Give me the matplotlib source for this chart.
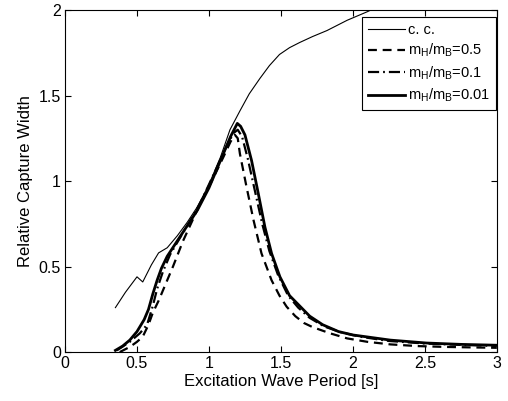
import matplotlib
matplotlib.use("Agg")
import matplotlib.pyplot as plt

plt.rcParams['font.family'] = ['Liberation Sans', 'DejaVu Sans']
plt.rcParams['mathtext.default'] = 'regular'

# c. c. curve
T_cc = [0.35, 0.42, 0.50, 0.54, 0.60, 0.65, 0.71, 0.78, 0.85, 0.92, 1.00, 1.08, 1.146, 1.215, 1.28, 1.354,
        1.42, 1.49, 1.56, 1.63, 1.72, 1.82, 1.96, 2.10, 2.15]
W_cc = [0.26, 0.35, 0.44, 0.41, 0.51, 0.58, 0.61, 0.68, 0.76, 0.85, 0.98, 1.14, 1.30, 1.41, 1.51, 1.60,
        1.675, 1.74, 1.78, 1.81, 1.845, 1.88, 1.94, 1.99, 2.01]

# m_H/m_B = 0.5
T_05 = [0.38, 0.45, 0.50, 0.54, 0.58, 0.61, 0.65, 0.68, 0.75, 0.82, 0.88, 0.94, 1.02, 1.10, 1.15, 1.18,
        1.20, 1.215, 1.26, 1.31, 1.365, 1.435, 1.49, 1.54, 1.60, 1.66, 1.72, 1.84, 1.96, 2.10, 2.26,
        2.45, 2.65, 2.85, 3.0]
W_05 = [0.00, 0.03, 0.06, 0.09, 0.16, 0.23, 0.30, 0.36, 0.50, 0.65, 0.76, 0.87, 1.00, 1.14, 1.23, 1.27,
        1.25, 1.16, 0.97, 0.77, 0.577, 0.42, 0.33, 0.265, 0.21, 0.17, 0.146, 0.11, 0.08, 0.06, 0.045,
        0.035, 0.03, 0.027, 0.025]

# m_H/m_B = 0.1
T_01 = [0.36, 0.45, 0.52, 0.57, 0.61, 0.64, 0.68, 0.73, 0.80, 0.88, 0.95, 1.05, 1.12, 1.17, 1.20, 1.23,
        1.27, 1.32, 1.37, 1.42, 1.48, 1.55, 1.62, 1.70, 1.80, 1.92, 2.05, 2.25, 2.50, 2.75, 3.0]
W_01 = [0.01, 0.06, 0.11, 0.16, 0.27, 0.37, 0.47, 0.57, 0.67, 0.78, 0.89, 1.07, 1.20, 1.28, 1.30, 1.26,
        1.13, 0.94, 0.75, 0.59, 0.45, 0.33, 0.26, 0.20, 0.15, 0.115, 0.09, 0.065, 0.05, 0.042, 0.036]

# m_H/m_B = 0.01
T_001 = [0.35, 0.40, 0.45, 0.50, 0.55, 0.58, 0.61, 0.64, 0.67, 0.71, 0.78, 0.85, 0.92, 1.00, 1.08, 1.15,
         1.197, 1.22, 1.25, 1.296, 1.342, 1.389, 1.435, 1.493, 1.56, 1.63, 1.70, 1.79, 1.90, 2.00, 2.13,
         2.26, 2.51, 2.75, 3.0]
W_001 = [0.01, 0.035, 0.07, 0.12, 0.19, 0.25, 0.34, 0.42, 0.49, 0.56, 0.65, 0.74, 0.83, 0.96, 1.12, 1.26,
         1.337, 1.32, 1.27, 1.12, 0.93, 0.73, 0.577, 0.44, 0.33, 0.27, 0.21, 0.16, 0.12, 0.10, 0.085,
         0.07, 0.053, 0.045, 0.04]

fig = plt.figure(figsize=(5.08, 4.01), dpi=100)
ax = fig.add_axes([0.128, 0.122, 0.85, 0.853])

ax.plot(T_cc, W_cc, color='k', lw=0.8, label='c. c.')
ax.plot(T_05, W_05, color='k', lw=1.6, ls=(0, (4, 2.6)), label='m$_H$/m$_B$=0.5')
ax.plot(T_01, W_01, color='k', lw=1.6, ls=(0, (5, 1.8, 0.8, 1.8)), label='m$_H$/m$_B$=0.1')
ax.plot(T_001, W_001, color='k', lw=2.0, label='m$_H$/m$_B$=0.01')

ax.set_xlim(0, 3)
ax.set_ylim(0, 2)
ax.set_xticks([0, 0.5, 1, 1.5, 2, 2.5, 3])
ax.set_xticklabels(['0', '0.5', '1', '1.5', '2', '2.5', '3'])
ax.set_yticks([0, 0.5, 1, 1.5, 2])
ax.set_yticklabels(['0', '0.5', '1', '1.5', '2'])
for s in ax.spines.values():
    s.set_linewidth(0.8)
ax.tick_params(direction='in', top=True, right=True, labelsize=11.5, length=4, width=0.8, pad=3)
ax.set_xlabel('Excitation Wave Period [s]', fontsize=12, labelpad=2)
ax.set_ylabel('Relative Capture Width', fontsize=12, labelpad=4)

leg = ax.legend(loc='upper right', bbox_to_anchor=(496 / 508, (401 - 17) / 401),
                bbox_transform=fig.transFigure, borderaxespad=0,
                fontsize=10.5, frameon=True, fancybox=False,
                edgecolor='k', framealpha=1, handlelength=2.5,
                labelspacing=0.35, handletextpad=0.25, borderpad=0.4)
leg.get_frame().set_linewidth(0.8)

fig.savefig('out.png', dpi=100)
